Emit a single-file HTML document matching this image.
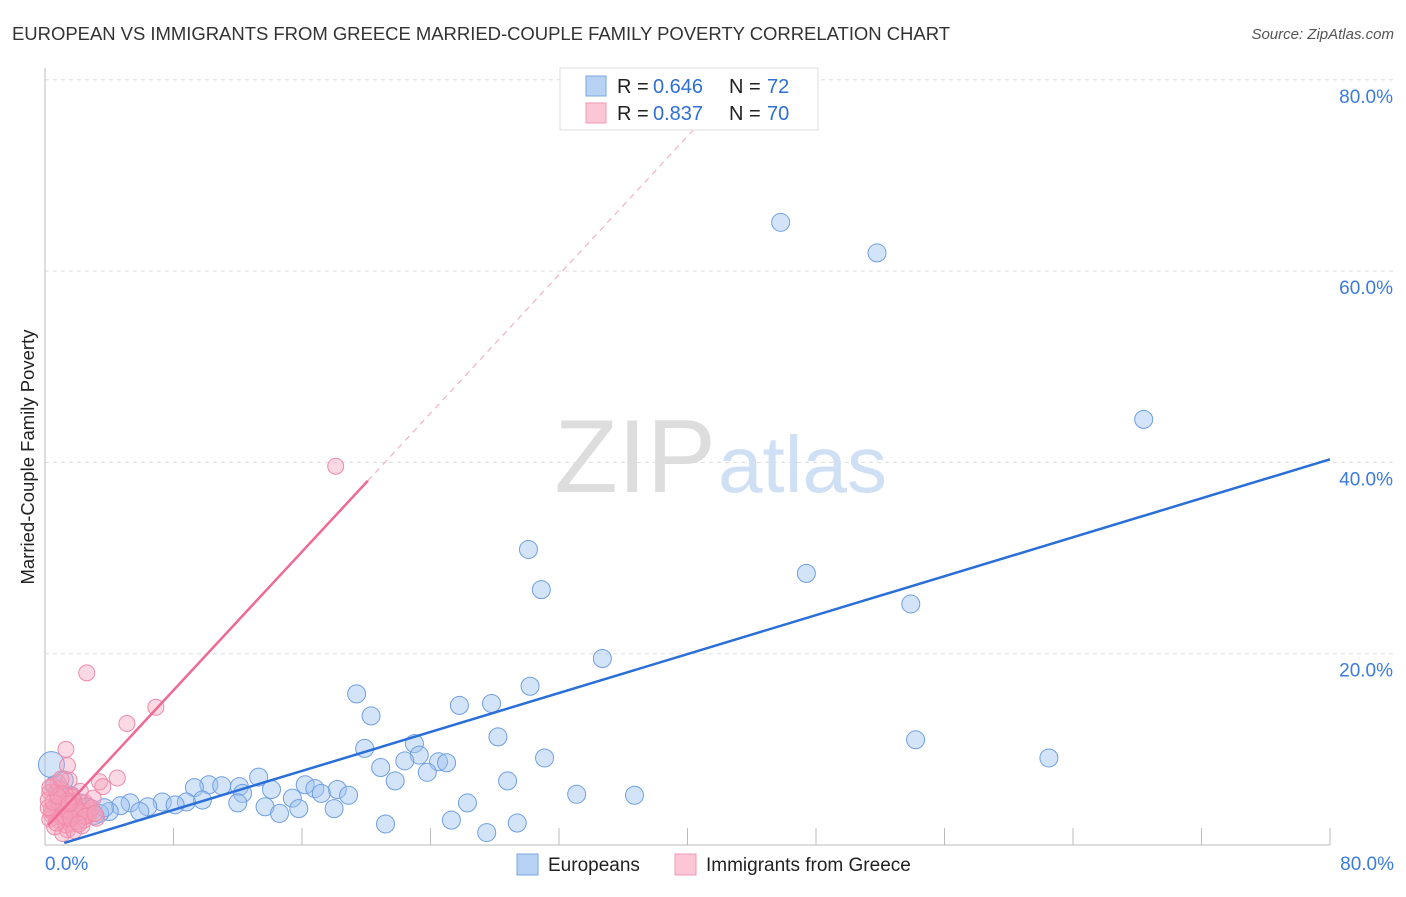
<!DOCTYPE html>
<html><head><meta charset="utf-8"><style>
body{margin:0;background:#fff;font-family:"Liberation Sans",sans-serif}
svg text{font-family:"Liberation Sans",sans-serif}
</style></head><body>
<svg id="c" width="1406" height="892">
<text x="12" y="40" font-size="18.5" fill="#333" textLength="938">EUROPEAN VS IMMIGRANTS FROM GREECE MARRIED-COUPLE FAMILY POVERTY CORRELATION CHART</text>
<text x="1394" y="39" font-size="15" fill="#555" font-style="italic" text-anchor="end">Source: ZipAtlas.com</text>
<text x="34" y="457" font-size="18.5" fill="#222" text-anchor="middle" transform="rotate(-90 34 457)">Married-Couple Family Poverty</text>
<g id="grid"></g>
<text x="716" y="492" font-size="104" fill="#ddd" text-anchor="end" font-family="Liberation Serif">ZIP</text>
<text x="718" y="492" font-size="80" fill="#cfe0f5">atlas</text>
<g id="pts"></g>
<g id="lines"></g>
<g>
<rect x="560" y="68" width="258" height="62" fill="#fff" stroke="#ddd"/>
<rect x="586" y="76" width="20" height="20" fill="#b8d2f4" stroke="#7aa7e6"/>
<text x="617" y="93" font-size="20" fill="#222">R =</text>
<text x="653" y="93" font-size="20" fill="#2f6fd6">0.646</text>
<text x="729" y="93" font-size="20" fill="#222">N =</text>
<text x="767" y="93" font-size="20" fill="#2f6fd6">72</text>
<rect x="586" y="103" width="20" height="20" fill="#fbc6d6" stroke="#f09ab4"/>
<text x="617" y="120" font-size="20" fill="#222">R =</text>
<text x="653" y="120" font-size="20" fill="#2f6fd6">0.837</text>
<text x="729" y="120" font-size="20" fill="#222">N =</text>
<text x="767" y="120" font-size="20" fill="#2f6fd6">70</text>
</g>
<g>
<rect x="517" y="854" width="21" height="21" fill="#b8d2f4" stroke="#7aa7e6"/>
<text x="548" y="871" font-size="19" fill="#222">Europeans</text>
<rect x="675" y="854" width="21" height="21" fill="#fbc6d6" stroke="#f09ab4"/>
<text x="706" y="871" font-size="19" fill="#222">Immigrants from Greece</text>
</g>
</svg>
<script>
const yTicks=[20,40,60,80];
const yTickLabels=["20.0%","40.0%","60.0%","80.0%"];
const xTickVals=[0,8,16,24,32,40,48,56,64,72,80];
const xEndLabels=["0.0%","80.0%"];
const blueX=[45.8,51.8,68.4,30.1,30.9,47.4,53.9,34.7,30.2,19.4,25.8,27.8,20.3,28.2,54.2,19.9,23.0,62.5,31.1,23.3,22.4,20.9,24.5,25.0,23.8,21.8,28.8,13.3,10.2,9.3,11.0,12.1,16.2,14.1,16.8,18.2,17.2,18.9,33.1,36.7,12.3,9.8,8.8,7.3,8.1,5.3,4.7,6.4,12.0,13.7,15.4,26.3,15.8,14.6,18.0,21.2,25.3,29.4,27.5,5.9,4.0,3.4,2.7,2.2,1.6,0.9,0.4,0.6,1.2,3.1,1.9,3.7];
const blueY=[65.1,61.9,44.5,30.9,26.7,28.4,25.2,19.5,16.6,15.8,14.6,14.8,13.5,11.3,11.0,10.1,10.6,9.1,9.1,9.4,8.8,8.1,8.7,8.6,7.6,6.7,6.7,7.1,6.3,6.0,6.2,6.1,6.3,5.8,5.9,5.8,5.4,5.2,5.3,5.2,5.4,4.7,4.5,4.5,4.2,4.4,4.1,4.0,4.4,4.0,4.9,4.4,3.8,3.3,3.8,2.2,2.6,2.3,1.3,3.5,3.5,3.3,3.9,4.4,5.2,5.8,8.4,6.3,6.8,3.1,3.7,3.9];
const pinkX=[18.1,2.6,6.9,5.1,1.3,4.5,1.4,3.4,3.6,0.3,0.5,0.8,1.0,1.2,1.5,1.7,2.0,2.2,2.5,2.8,3.0,3.2,0.4,0.6,0.9,1.1,1.3,1.6,1.8,2.1,2.3,2.6,0.2,0.5,0.7,1.0,1.4,1.9,2.4,2.9,0.3,0.8,1.2,1.6,2.0,2.7,0.6,1.1,1.5,1.9,0.4,0.9,1.3,1.7,2.2,0.2,0.7,1.0,1.4,1.8,2.5,3.1,0.5,0.8,1.2,1.6,2.1,0.3,1.0,1.5];
const pinkY=[39.6,18.0,14.4,12.7,10.0,7.0,8.3,6.6,6.1,5.5,6.2,4.8,5.9,4.2,6.8,5.1,3.9,5.6,4.4,3.6,4.9,2.8,3.2,4.0,2.5,3.6,5.2,2.2,4.6,3.0,2.0,4.1,4.7,3.4,5.5,2.9,1.6,3.3,2.6,3.9,2.7,6.5,3.8,4.4,2.4,3.1,1.9,1.2,3.5,4.0,3.7,4.3,2.1,5.0,3.4,3.9,2.3,5.4,4.6,1.5,3.0,3.3,4.5,5.1,3.0,2.8,2.2,6.0,6.9,4.3];
const blueTrend=[-0.4,0.509];
const pinkTrend=[1.7,1.81];
const X=v=>45+v*1285/80, Y=v=>845-v*9.565;
const NS="http://www.w3.org/2000/svg";
function mk(t,a,p){const e=document.createElementNS(NS,t);for(const k in a)e.setAttribute(k,a[k]);p.appendChild(e);return e;}
const g=document.getElementById('grid');
yTicks.forEach((v,i)=>{
 const l=mk('line',{x1:45,x2:1394,y1:Y(v),y2:Y(v),stroke:'#ddd','stroke-dasharray':'4,4'},g);
 
 
 const t=mk('text',{x:1393,y:Y(v)+23,'font-size':19,fill:'#3b7be0','text-anchor':'end'},g);t.textContent=yTickLabels[i];
 
 
});
const ax=mk('line',{x1:45,x2:45,y1:68,y2:845,stroke:'#bbb'},g);


const bx=mk('line',{x1:45,x2:1330,y1:845,y2:845,stroke:'#bbb'},g);


xTickVals.forEach(v=>{const l=mk('line',{x1:X(v),x2:X(v),y1:828,y2:845,stroke:'#bbb'},g);
 
 });
[[0,'start',45],[80,'end',1394]].forEach((d,i)=>{const t=mk('text',{x:d[2],y:870,'font-size':19,fill:'#3b7be0','text-anchor':d[1]},g);t.textContent=xEndLabels[i];
 
 });
const p=document.getElementById('pts');
blueX.forEach((v,i)=>{const c=mk('circle',{cx:X(v),cy:Y(blueY[i]),r:i==66?13:9,fill:'rgba(160,196,240,0.45)',stroke:'#6f9fe3','stroke-width':1},p);
 
 });
pinkX.forEach((v,i)=>{const c=mk('circle',{cx:X(v),cy:Y(pinkY[i]),r:8,fill:'rgba(245,160,188,0.4)',stroke:'#f08aa8','stroke-width':1},p);
 
 });
const L=document.getElementById('lines');
const b=mk('line',{x1:X(1.2),y1:Y(blueTrend[0]+blueTrend[1]*1.2),x2:X(80),y2:Y(blueTrend[0]+blueTrend[1]*80),stroke:'#2a6fd8','stroke-width':2.5},L);


const ps=mk('line',{x1:X(0.2),y1:Y(pinkTrend[0]+pinkTrend[1]*0.2),x2:X(20.1),y2:Y(pinkTrend[0]+pinkTrend[1]*20.1),stroke:'#ee6a93','stroke-width':2.5},L);


const pd=mk('line',{x1:X(20.1),y1:Y(pinkTrend[0]+pinkTrend[1]*20.1),x2:X(42),y2:Y(pinkTrend[0]+pinkTrend[1]*42),stroke:'#f3b0c4','stroke-width':1.2,'stroke-dasharray':'6,5'},L);


</script>
</body></html>
